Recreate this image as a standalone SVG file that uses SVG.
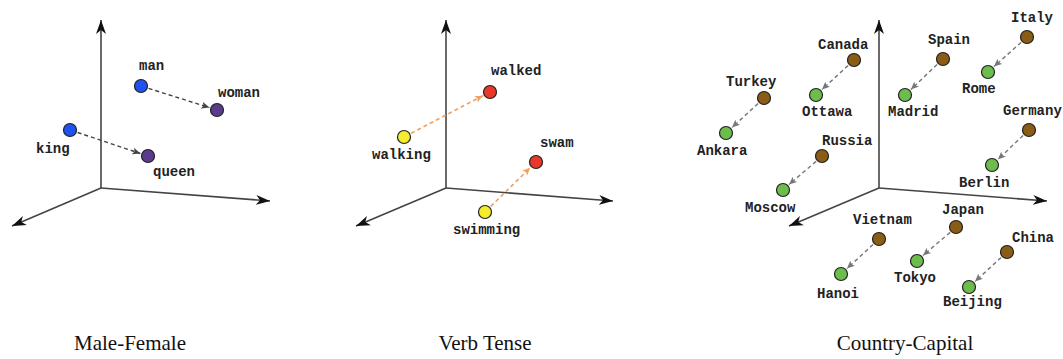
<svg xmlns="http://www.w3.org/2000/svg" width="1063" height="359" viewBox="0 0 1063 359">
<defs>
<marker id="ax" markerUnits="userSpaceOnUse" markerWidth="16" markerHeight="12" refX="14" refY="5" orient="auto" viewBox="0 0 16 10">
<path d="M0,0 L14,5 L0,10 L4,5 z" fill="#111"/>
</marker>
<marker id="ad" markerUnits="userSpaceOnUse" markerWidth="9" markerHeight="8" refX="8" refY="3.5" orient="auto" viewBox="0 0 9 7">
<path d="M0,0 L8,3.5 L0,7 L2,3.5 z" fill="#444"/>
</marker>
<marker id="ao" markerUnits="userSpaceOnUse" markerWidth="9" markerHeight="8" refX="8" refY="3.5" orient="auto" viewBox="0 0 9 7">
<path d="M0,0 L8,3.5 L0,7 L2,3.5 z" fill="#f0a060"/>
</marker>
<marker id="ag" markerUnits="userSpaceOnUse" markerWidth="9" markerHeight="8" refX="8" refY="3.5" orient="auto" viewBox="0 0 9 7">
<path d="M0,0 L8,3.5 L0,7 L2,3.5 z" fill="#777"/>
</marker>
</defs>
<style>
.axis{stroke:#444;stroke-width:1.6;fill:none;marker-end:url(#ax)}
.d1{stroke:#444;stroke-width:1.4;stroke-dasharray:4 3;fill:none;marker-end:url(#ad)}
.d2{stroke:#f0a060;stroke-width:1.6;stroke-dasharray:4 3;fill:none;marker-end:url(#ao)}
.d3{stroke:#777;stroke-width:1.4;stroke-dasharray:4 3;fill:none;marker-end:url(#ag)}
circle{stroke:#222;stroke-width:1.2}
.blue{fill:#1f52f0}
.purple{fill:#5b3c8c}
.yellow{fill:#f4ec2c}
.red{fill:#e8382a}
.brown{fill:#8a5c16}
.green{fill:#6cbd4c}
.lbl{font-family:"Liberation Mono",monospace;font-size:14px;font-weight:bold;fill:#222}
.title{font-family:"Liberation Serif",serif;font-size:21px;fill:#111;text-anchor:middle}
</style>
<rect width="1063" height="359" fill="#fff"/>
<g id="axes">
<path class="axis" d="M101,188 L101,20"/>
<path class="axis" d="M101,188 L270,201"/>
<path class="axis" d="M101,188 L12,226"/>
<path class="axis" d="M446,188 L446,20"/>
<path class="axis" d="M446,188 L613,201"/>
<path class="axis" d="M446,188 L356,226"/>
<path class="axis" d="M879,188 L879,20"/>
<path class="axis" d="M879,188 L1047,201"/>
<path class="axis" d="M879,188 L789,226"/>
</g>
<g id="connectors">
<path class="d1" d="M148.6,88.4 L209.4,107.6"/>
<path class="d1" d="M77.6,132.5 L140.4,153.5"/>
<path class="d2" d="M411.1,133.3 L482.9,95.7"/>
<path class="d2" d="M490.7,206.4 L530.3,167.6"/>
<path class="d3" d="M848.1,65.4 L821.9,89.6"/>
<path class="d3" d="M758.1,103.4 L731.9,127.6"/>
<path class="d3" d="M937.1,64.4 L910.9,89.6"/>
<path class="d3" d="M1021.1,42.4 L993.9,66.6"/>
<path class="d3" d="M1023.1,135.4 L997.9,159.6"/>
<path class="d3" d="M816.1,161.4 L788.9,184.6"/>
<path class="d3" d="M873.1,244.4 L846.9,268.6"/>
<path class="d3" d="M950.1,232.4 L922.9,255.6"/>
<path class="d3" d="M1001.1,257.4 L974.9,281.6"/>
</g>
<g id="man"><circle class="blue" cx="141" cy="86" r="6.5"/><text class="lbl" x="139" y="70">man</text></g>
<g id="woman"><circle class="purple" cx="217" cy="110" r="6.5"/><text class="lbl" x="218" y="97">woman</text></g>
<g id="king"><circle class="blue" cx="70" cy="130" r="6.5"/><text class="lbl" x="36" y="153">king</text></g>
<g id="queen"><circle class="purple" cx="148" cy="156" r="6.5"/><text class="lbl" x="153" y="176">queen</text></g>
<g id="walked"><circle class="red" cx="490" cy="92" r="6.5"/><text class="lbl" x="491" y="75">walked</text></g>
<g id="walking"><circle class="yellow" cx="404" cy="137" r="6.5"/><text class="lbl" x="372" y="159">walking</text></g>
<g id="swam"><circle class="red" cx="536" cy="162" r="6.5"/><text class="lbl" x="540" y="147">swam</text></g>
<g id="swimming"><circle class="yellow" cx="485" cy="212" r="6.5"/><text class="lbl" x="453" y="234">swimming</text></g>
<g id="canada"><circle class="brown" cx="854" cy="60" r="6.5"/><text class="lbl" x="818" y="49">Canada</text></g>
<g id="ottawa"><circle class="green" cx="816" cy="95" r="6.5"/><text class="lbl" x="802" y="116">Ottawa</text></g>
<g id="turkey"><circle class="brown" cx="764" cy="98" r="6.5"/><text class="lbl" x="726" y="86">Turkey</text></g>
<g id="ankara"><circle class="green" cx="726" cy="133" r="6.5"/><text class="lbl" x="697" y="155">Ankara</text></g>
<g id="spain"><circle class="brown" cx="943" cy="59" r="6.5"/><text class="lbl" x="928" y="44">Spain</text></g>
<g id="madrid"><circle class="green" cx="905" cy="95" r="6.5"/><text class="lbl" x="888" y="116">Madrid</text></g>
<g id="italy"><circle class="brown" cx="1027" cy="37" r="6.5"/><text class="lbl" x="1011" y="22">Italy</text></g>
<g id="rome"><circle class="green" cx="988" cy="72" r="6.5"/><text class="lbl" x="962" y="93">Rome</text></g>
<g id="germany"><circle class="brown" cx="1029" cy="130" r="6.5"/><text class="lbl" x="1003" y="115">Germany</text></g>
<g id="berlin"><circle class="green" cx="992" cy="165" r="6.5"/><text class="lbl" x="959" y="187">Berlin</text></g>
<g id="russia"><circle class="brown" cx="822" cy="156" r="6.5"/><text class="lbl" x="822" y="145">Russia</text></g>
<g id="moscow"><circle class="green" cx="783" cy="190" r="6.5"/><text class="lbl" x="745" y="212">Moscow</text></g>
<g id="vietnam"><circle class="brown" cx="879" cy="239" r="6.5"/><text class="lbl" x="853" y="224">Vietnam</text></g>
<g id="hanoi"><circle class="green" cx="841" cy="274" r="6.5"/><text class="lbl" x="817" y="298">Hanoi</text></g>
<g id="japan"><circle class="brown" cx="956" cy="227" r="6.5"/><text class="lbl" x="942" y="214">Japan</text></g>
<g id="tokyo"><circle class="green" cx="917" cy="261" r="6.5"/><text class="lbl" x="894" y="282">Tokyo</text></g>
<g id="china"><circle class="brown" cx="1007" cy="252" r="6.5"/><text class="lbl" x="1012" y="242">China</text></g>
<g id="beijing"><circle class="green" cx="969" cy="287" r="6.5"/><text class="lbl" x="943" y="306">Beijing</text></g>
<g id="titles">
<text class="title" x="130" y="350">Male-Female</text>
<text class="title" x="485" y="350">Verb Tense</text>
<text class="title" x="905" y="350">Country-Capital</text>
</g>
</svg>
